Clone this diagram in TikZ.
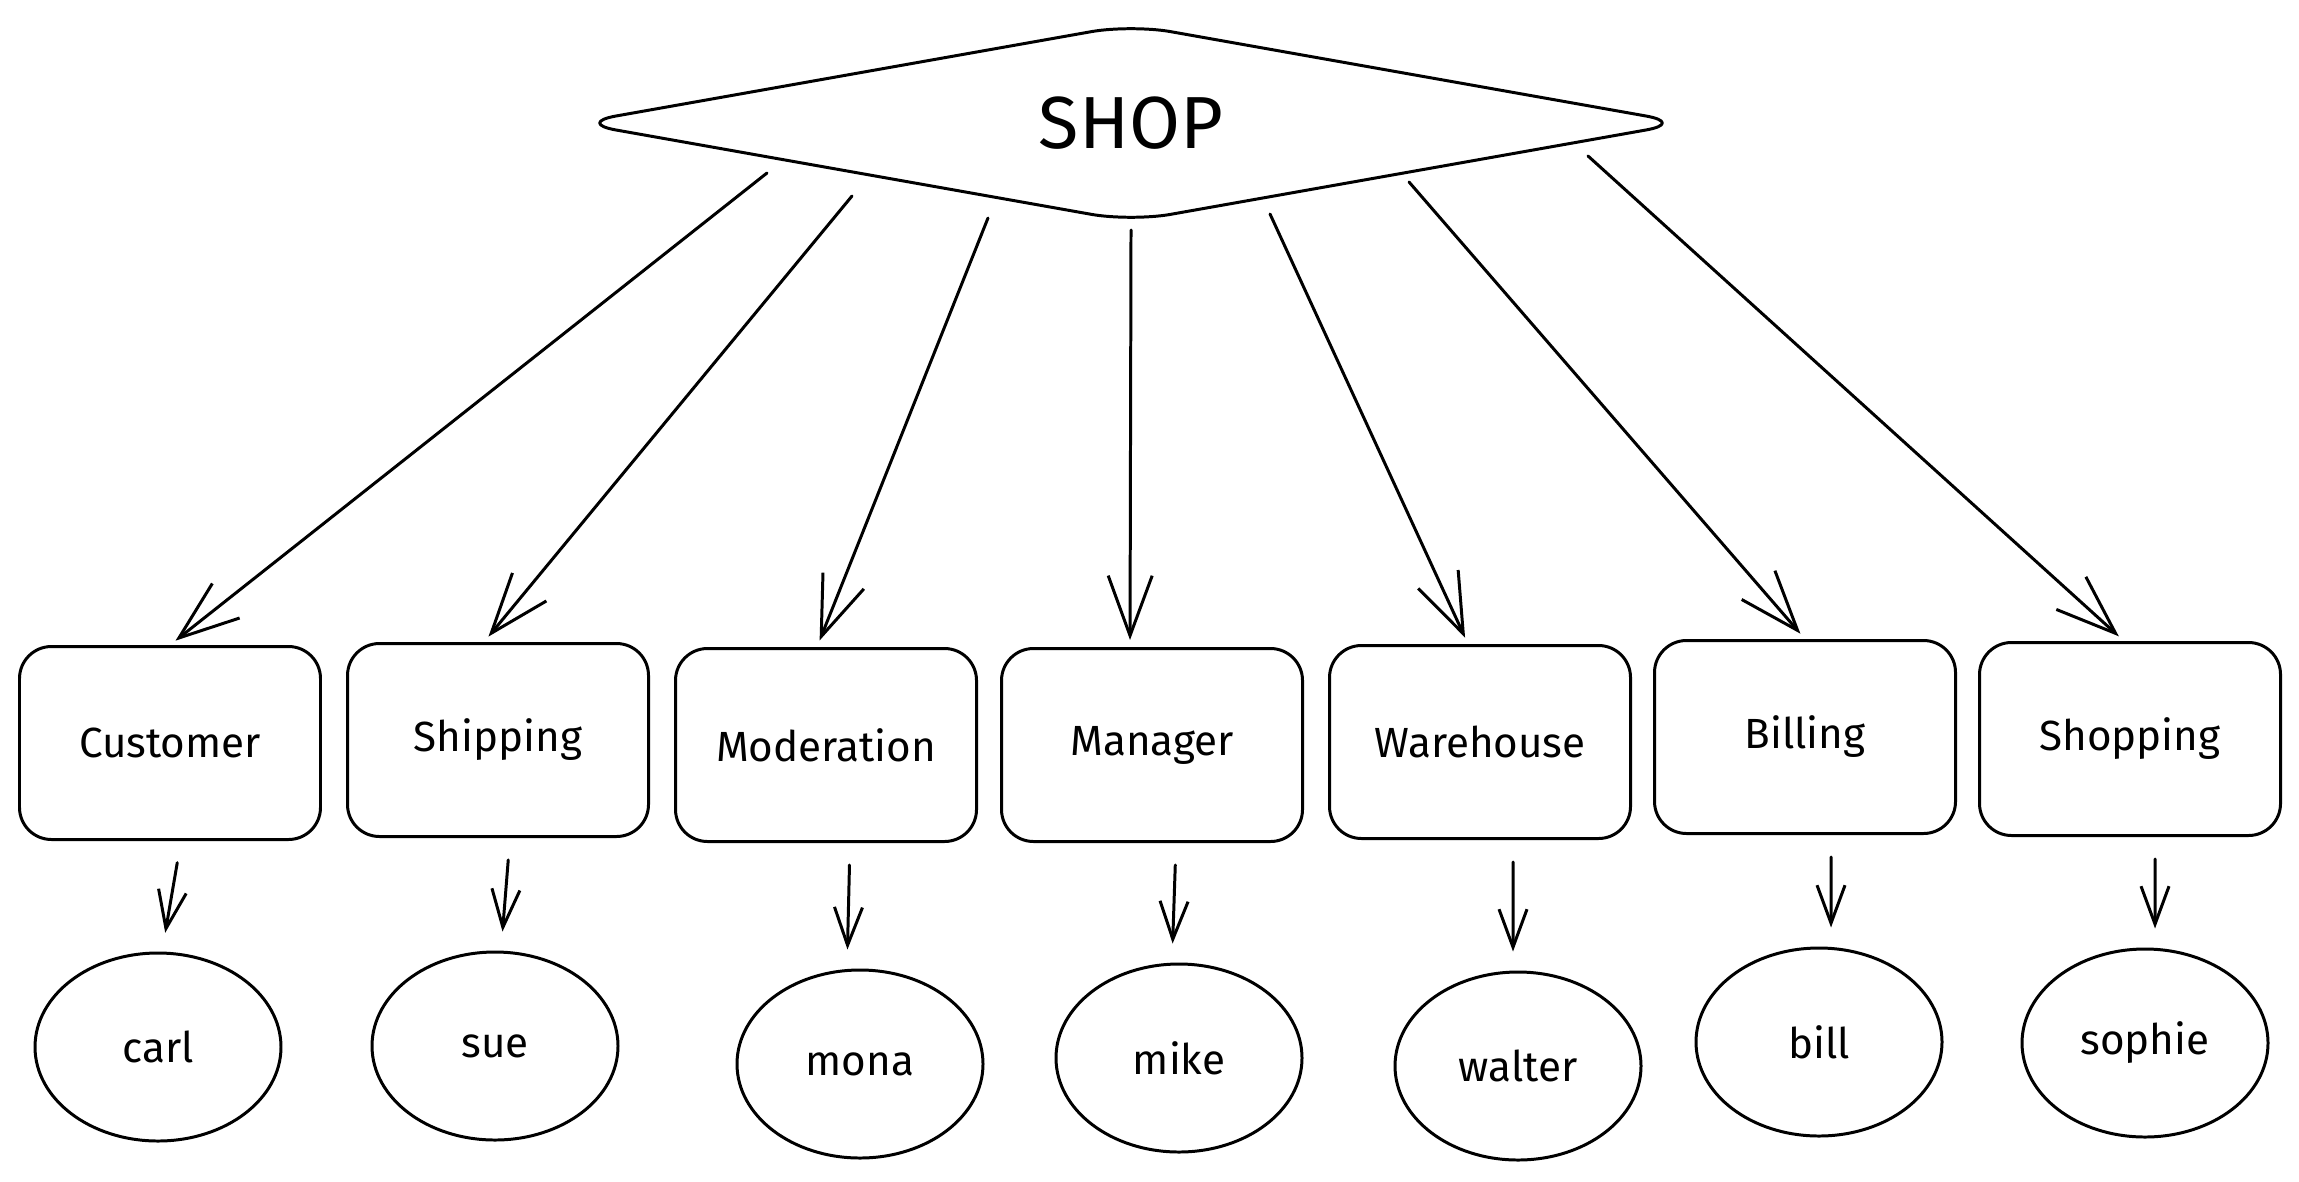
\documentclass[tikz,border=0pt]{standalone}
\usepackage{fontspec}
\setmainfont{Fira Sans}
\usepackage{tikz}
\usetikzlibrary{shapes.geometric}
\usetikzlibrary{arrows.meta}
\tikzset{unit/.style={draw, rounded corners=3.2mm, minimum width=3.01cm, minimum height=1.93cm, inner sep=0pt}}
\tikzset{person/.style={draw, ellipse, minimum width=2.46cm, minimum height=1.88cm, inner sep=0pt}}
\tikzset{feed/.style={-{Straight Barb[length=6mm,width=4.4mm]}, shorten >=2pt}}
\tikzset{assign/.style={-{Straight Barb[length=3.8mm,width=2.8mm]}, shorten <=2.2mm, shorten >=1.9mm}}

\begin{document}
\begin{tikzpicture}[line width=0.85pt, line cap=round, line join=round]
	% Default action for each node
	\tikzstyle{every node}=[font=\fontsize{12}{14}\selectfont];
	\useasboundingbox (0,0) rectangle (22.99,-11.81);

	\node[draw, diamond, shape aspect=5.5, minimum width=11.1cm, minimum height=1.98cm, inner sep=0pt, rounded corners=4mm, font=\fontsize{21}{25}\selectfont] (shop) at (11.31,-1.23) {SHOP};

	\coordinate (out1) at (7.67,-1.73);	\coordinate (out2) at (8.52,-1.96);	\coordinate (out3) at (9.88,-2.18);	\coordinate (out4) at (11.31,-2.30);
	\coordinate (out5) at (12.70,-2.14);	\coordinate (out6) at (14.09,-1.82);	\coordinate (out7) at (15.88,-1.56);

	\node[unit] (customer) at (1.70,-7.43) {Customer};	\node[unit] (shipping) at (4.98,-7.40) {Shipping};	\node[unit] (moderation) at (8.26,-7.45) {Moderation};	\node[unit] (manager) at (11.52,-7.45) {Manager};
	\node[unit] (warehouse) at (14.80,-7.42) {Warehouse};	\node[unit] (billing) at (18.05,-7.37) {Billing};	\node[unit] (shopping) at (21.30,-7.39) {Shopping};

	\node[person] (carl) at (1.58,-10.47) {carl};	\node[person] (sue) at (4.95,-10.46) {sue};	\node[person] (mona) at (8.60,-10.64) {mona};	\node[person] (mike) at (11.79,-10.58) {mike};
	\node[person] (walter) at (15.18,-10.66) {walter};	\node[person] (bill) at (18.19,-10.42) {bill};	\node[person] (sophie) at (21.45,-10.43) {sophie};

	% Shop to departments
	\draw[feed] (out1) -- (customer.north);
	\draw[feed] (out2) -- ([xshift=-1.4mm]shipping.north);
	\draw[feed] (out3) -- ([xshift=-0.9mm]moderation.north);
	\draw[feed] (out4) -- ([xshift=-2.2mm]manager.north);
	\draw[feed] (out5) -- ([xshift=-1.2mm]warehouse.north);
	\draw[feed] (out6) -- (billing.north);
	\draw[feed] (out7) -- ([xshift=-0.6mm]shopping.north);

	% Departments to people
	\draw[assign] ([xshift=1.1mm]customer.south) -- ([xshift=0.4mm]carl.north);
	\draw[assign] ([xshift=1.2mm]shipping.south) -- ([xshift=0.6mm]sue.north);
	\draw[assign] ([xshift=2.4mm]moderation.south) -- ([xshift=-1.3mm]mona.north);
	\draw[assign] ([xshift=2.4mm]manager.south) -- ([xshift=-0.7mm]mike.north);
	\draw[assign] ([xshift=3.3mm]warehouse.south) -- ([xshift=-0.5mm]walter.north);
	\draw[assign] ([xshift=2.6mm]billing.south) -- ([xshift=1.2mm]bill.north);
	\draw[assign] ([xshift=2.5mm]shopping.south) -- ([xshift=1.0mm]sophie.north);
\end{tikzpicture}
\end{document}
